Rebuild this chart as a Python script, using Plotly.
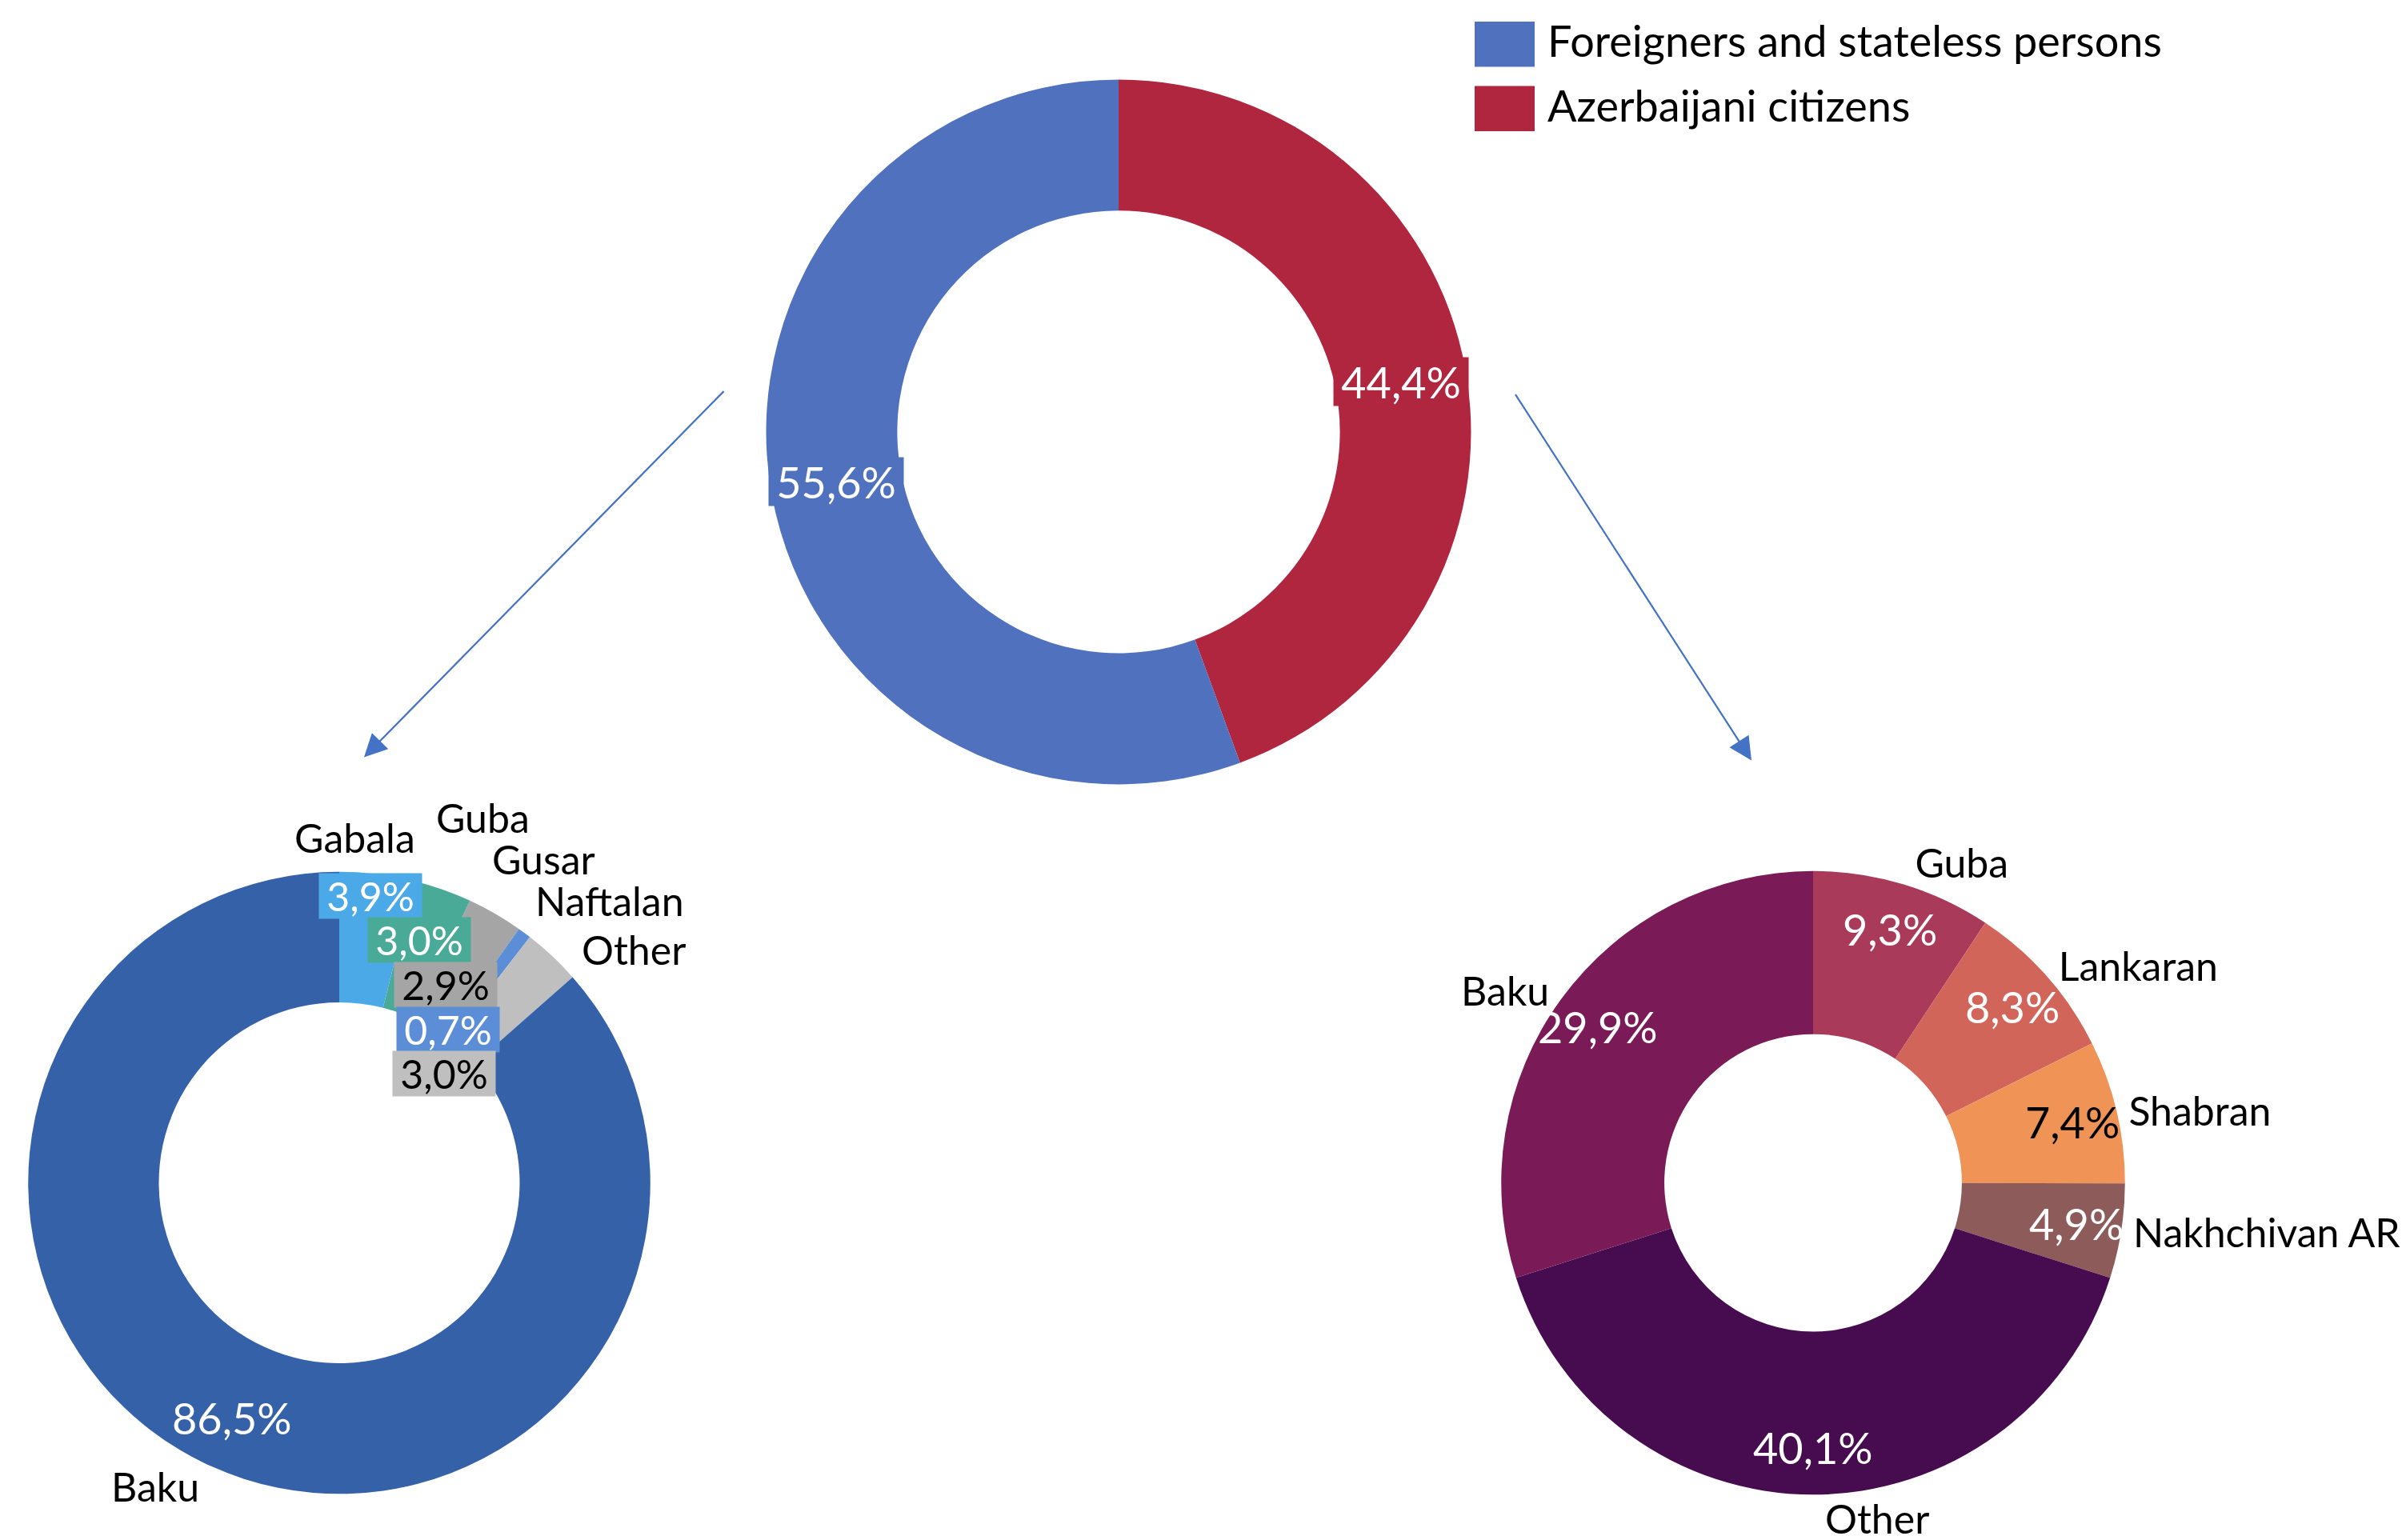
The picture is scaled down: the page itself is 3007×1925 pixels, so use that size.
import math
import plotly.graph_objects as go

# ---- data ----
top_labels = ["Foreigners and stateless persons", "Azerbaijani citizens"]
top_values = [55.6, 44.4]
top_colors = ["#4F71BE", "#B0263F"]

left_labels = ["Gabala", "Guba", "Gusar", "Naftalan", "Other", "Baku"]
left_values = [3.9, 3.0, 2.9, 0.7, 3.0, 86.5]
left_colors = ["#4CA9E8", "#4AAA98", "#A5A5A5", "#5B8ED6", "#BFBFBF", "#3461A8"]
left_textcolors = ["white", "white", "black", "white", "black", "white"]

right_labels = ["Guba", "Lankaran", "Shabran", "Nakhchivan AR", "Other", "Baku"]
right_values = [9.3, 8.3, 7.4, 4.9, 40.1, 29.9]
right_colors = ["#A93A5A", "#D2655A", "#EF9456", "#8E5B5B", "#470B4F", "#7A1A57"]
right_textcolors = ["white", "white", "black", "white", "white", "white"]

W, H = 3007, 1925
FONT = "Lato"
FS_PCT = 54   # percentage labels
FS_BOX = 50   # stacked boxes on the left donut
FS_NAME = 50  # category names
FS_LEG = 54   # legend

# donut geometry in pixels: centre x, centre y, outer radius
TOP = (1390, 535, 443)
LEFT = (416, 1479, 391)
RIGHT = (2258, 1479, 392)


def dom(cx, cy, r):
    return dict(x=[(cx - r) / W, (cx + r) / W], y=[1 - (cy + r) / H, 1 - (cy - r) / H])


def pct(v):
    return f"{v:.1f}".replace(".", ",") + "%"


def label_points(values, geom, frac):
    # centre of every slice (clockwise from 12 o'clock) at frac * outer radius
    cx, cy, r = geom
    total = sum(values)
    pts, cum = [], 0.0
    for v in values:
        a = 2 * math.pi * (cum + v / 2) / total
        pts.append((cx + frac * r * math.sin(a), cy - frac * r * math.cos(a)))
        cum += v
    return pts


fig = go.Figure()

# top donut: citizens first, clockwise from 12 o'clock
top_order = [1, 0]
fig.add_trace(go.Pie(
    labels=[top_labels[i] for i in top_order], values=[top_values[i] for i in top_order],
    hole=0.628, domain=dom(*TOP), sort=False, direction="clockwise", rotation=0,
    marker=dict(colors=[top_colors[i] for i in top_order]),
    textinfo="none", showlegend=False, hoverinfo="skip",
))

# bottom-left donut (name outside only for Baku; small slices labelled by hand)
fig.add_trace(go.Pie(
    labels=left_labels, values=left_values, hole=0.58,
    domain=dom(*LEFT), sort=False, direction="clockwise", rotation=0,
    marker=dict(colors=left_colors),
    texttemplate=["" for _ in left_labels[:-1]] + ["%{label}"],
    textposition="outside",
    textfont=dict(color="black", size=FS_NAME, family=FONT),
    showlegend=False, hoverinfo="skip",
))

# bottom-right donut with names outside
fig.add_trace(go.Pie(
    labels=right_labels, values=right_values, hole=0.477,
    domain=dom(*RIGHT), sort=False, direction="clockwise", rotation=0,
    marker=dict(colors=right_colors),
    texttemplate="%{label}", textposition="outside",
    textfont=dict(color="black", size=FS_NAME, family=FONT),
    showlegend=False, hoverinfo="skip",
))

annotations = []
shapes = []


def pct_note(x, y, v, color, size, bg=None, w=None, h=None):
    d = dict(x=x / W, y=1 - y / H, xref="paper", yref="paper",
             xanchor="center", yanchor="middle", text=pct(v), showarrow=False,
             font=dict(size=size, family=FONT, color=color))
    if bg:
        d.update(bgcolor=bg, borderpad=0, width=w, height=h)
    return d


# top donut percentages in boxes of the slice colour
top_vals = [top_values[i] for i in top_order]
top_cols = [top_colors[i] for i in top_order]
for (x, y), v, c in zip(label_points(top_vals, TOP, 0.81), top_vals, top_cols):
    annotations.append(pct_note(x, y, v, "white", FS_PCT, bg=c, w=168, h=60))

# right donut percentages, near the outer edge like the original
for (x, y), v, c in zip(label_points(right_values, RIGHT, 0.85), right_values, right_textcolors):
    annotations.append(pct_note(x, y, v, c, FS_PCT))

# Baku percentage on the left donut
x, y = label_points(left_values, LEFT, 0.83)[-1]
annotations.append(pct_note(x, y, left_values[-1], left_textcolors[-1], FS_PCT))

# labels of the small left slices (placed by hand in the original)
name_pos = [(435, 1045), (595, 1020), (671, 1072), (754, 1124), (784, 1186)]
box_pos = [(455, 1118), (516, 1174), (549, 1230), (552, 1286), (547, 1342)]
for i in range(5):
    nx, ny = name_pos[i]
    annotations.append(dict(x=nx / W, y=1 - ny / H, xref="paper", yref="paper",
                            xanchor="center", yanchor="middle",
                            text=left_labels[i], showarrow=False,
                            font=dict(size=FS_NAME, family=FONT, color="black")))
    bx, by = box_pos[i]
    annotations.append(pct_note(bx, by, left_values[i], left_textcolors[i], FS_BOX,
                                bg=left_colors[i], w=128, h=56))

# arrows
for (tx, ty), (hx, hy) in [((898, 485), (447, 944)), ((1885, 489), (2181, 948))]:
    annotations.append(dict(x=hx / W, y=1 - hy / H, xref="paper", yref="paper",
                            ax=tx - hx, ay=ty - hy, axref="pixel", ayref="pixel",
                            text="", showarrow=True, arrowhead=2, arrowsize=2.6,
                            arrowwidth=2.2, arrowcolor="#4472C4"))

# legend
for i, (lab, col) in enumerate(zip(top_labels, top_colors)):
    y0 = 19 + i * 81
    shapes.append(dict(type="rect", xref="paper", yref="paper",
                       x0=1835 / W, x1=1910 / W, y0=1 - (y0 + 57) / H, y1=1 - y0 / H,
                       fillcolor=col, line=dict(width=0)))
    annotations.append(dict(x=1924 / W, y=1 - (y0 + 24) / H, xref="paper", yref="paper",
                            xanchor="left", yanchor="middle", text=lab, showarrow=False,
                            font=dict(size=FS_LEG, family=FONT, color="black")))

fig.update_layout(
    width=W, height=H,
    margin=dict(l=0, r=0, t=0, b=0),
    paper_bgcolor="white", plot_bgcolor="white",
    separators=", ",
    annotations=annotations, shapes=shapes,
    font=dict(family=FONT, size=FS_NAME),
)

fig.write_html("out.html")
